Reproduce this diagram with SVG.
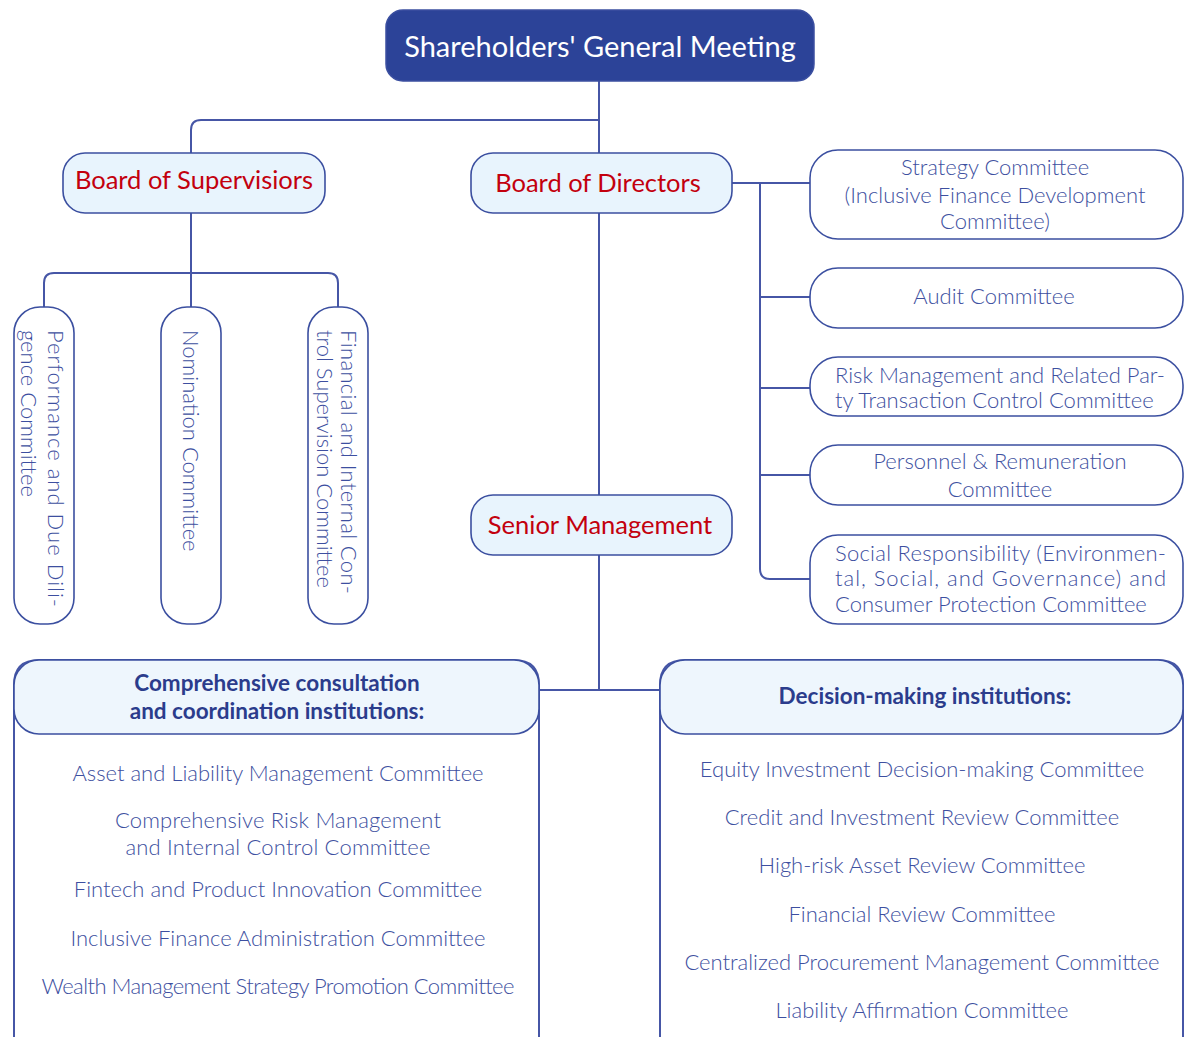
<svg xmlns="http://www.w3.org/2000/svg" width="1184" height="1037" viewBox="0 0 1184 1037">
<style>
.ln{fill:none;stroke:#4656a6;stroke-width:2}
.bx{fill:#e8f4fd;stroke:#3b4fa0;stroke-width:1.6}
.cb{fill:#ffffff;stroke:#3b4fa0;stroke-width:1.6}
.hd{fill:#eef6fd;stroke:#3b4fa0;stroke-width:1.6}
.red{font-family:"Lato","Noto Sans",sans-serif;font-size:25.5px;fill:#c3000e;text-anchor:middle}
.t{font-family:"Lato","Noto Sans",sans-serif;font-weight:300;font-size:22px;fill:#3d4fa0}
.tc{text-anchor:middle}
.hb{font-family:"Lato","Noto Sans",sans-serif;font-weight:700;font-size:22.5px;fill:#2b3c8c;text-anchor:middle}
</style>
<rect width="1184" height="1037" fill="#ffffff"/>
<g id="connectors">
<path class="ln" d="M599,81 V153"/>
<path class="ln" d="M599,120 H201 Q191,120 191,130 V153"/>
<path class="ln" d="M191,213 V307"/>
<path class="ln" d="M44,307 V283 Q44,273 54,273 H328 Q338,273 338,283 V307"/>
<path class="ln" d="M599,213 V495"/>
<path class="ln" d="M599,555 V690"/>
<path class="ln" d="M539,690 H660"/>
<path class="ln" d="M732,183 H810"/>
<path class="ln" d="M760,183 V569 Q760,579 770,579 H810"/>
<path class="ln" d="M760,297 H810 M760,388 H810 M760,475 H810"/>
</g>
<g id="shareholders">
<rect x="386" y="10" width="428" height="71" rx="17" fill="#2c4398" stroke="#3b4fa0" stroke-width="1.5"/>
<text x="600" y="57" font-family="Lato, 'Noto Sans', sans-serif" font-size="29" fill="#ffffff" text-anchor="middle">Shareholders' General Meeting</text>
</g>
<g id="supervisors">
<rect class="bx" x="63" y="153" width="262" height="60" rx="22"/>
<text class="red" x="194" y="189">Board of Supervisiors</text>
</g>
<g id="directors">
<rect class="bx" x="471" y="153" width="261" height="60" rx="22"/>
<text class="red" x="598" y="192">Board of Directors</text>
</g>
<g id="senior">
<rect class="bx" x="471" y="495" width="261" height="60" rx="22"/>
<text class="red" x="600" y="534">Senior Management</text>
</g>
<g id="performance">
<rect class="cb" x="14" y="307" width="60" height="317" rx="26"/>
<text class="t" transform="translate(48,330) rotate(90)" textLength="277">Performance and Due Dili-</text>
<text class="t" transform="translate(21,330) rotate(90)">gence Committee</text>
</g>
<g id="nomination">
<rect class="cb" x="161" y="307" width="60" height="317" rx="26"/>
<text class="t" transform="translate(183,330) rotate(90)">Nomination Committee</text>
</g>
<g id="financial">
<rect class="cb" x="308" y="307" width="60" height="317" rx="26"/>
<text class="t" transform="translate(341,330) rotate(90)" textLength="264">Financial and Internal Con-</text>
<text class="t" transform="translate(317,330) rotate(90)">trol Supervision Committee</text>
</g>
<g id="strategy">
<rect class="cb" x="810" y="150" width="373" height="89" rx="28"/>
<text class="t tc" x="995" y="175">Strategy Committee</text>
<text class="t tc" x="995" y="203">(Inclusive Finance Development</text>
<text class="t tc" x="995" y="229">Committee)</text>
</g>
<g id="audit">
<rect class="cb" x="810" y="268" width="373" height="60" rx="28"/>
<text class="t tc" x="994" y="304">Audit Committee</text>
</g>
<g id="risk">
<rect class="cb" x="810" y="357" width="373" height="59" rx="28"/>
<text class="t" x="835" y="383" textLength="330">Risk Management and Related Par-</text>
<text class="t" x="835" y="408">ty Transaction Control Committee</text>
</g>
<g id="personnel">
<rect class="cb" x="810" y="445" width="373" height="60" rx="28"/>
<text class="t tc" x="1000" y="469">Personnel &amp; Remuneration</text>
<text class="t tc" x="1000" y="497">Committee</text>
</g>
<g id="social">
<rect class="cb" x="810" y="535" width="373" height="89" rx="28"/>
<text class="t" x="835" y="561" textLength="331">Social Responsibility (Environmen-</text>
<text class="t" x="835" y="586" textLength="331">tal, Social, and Governance) and</text>
<text class="t" x="835" y="612">Consumer Protection Committee</text>
</g>
<g id="consultation">
<path class="ln" d="M14,1040 V685 Q14,660 39,660 H514 Q539,660 539,685 V1040"/>
<rect class="hd" x="14" y="660" width="525" height="74" rx="25"/>
<text class="hb" x="277" y="691">Comprehensive consultation</text>
<text class="hb" x="277" y="719">and coordination institutions:</text>
<text class="t tc" x="278" y="781">Asset and Liability Management Committee</text>
<text class="t tc" x="278" y="828" textLength="326">Comprehensive Risk Management</text>
<text class="t tc" x="278" y="855" textLength="305">and Internal Control Committee</text>
<text class="t tc" x="278" y="897">Fintech and Product Innovation Committee</text>
<text class="t tc" x="278" y="946">Inclusive Finance Administration Committee</text>
<text class="t tc" x="278" y="994" textLength="473">Wealth Management Strategy Promotion Committee</text>
</g>
<g id="decision">
<path class="ln" d="M660,1040 V685 Q660,660 685,660 H1158 Q1183,660 1183,685 V1040"/>
<rect class="hd" x="660" y="660" width="523" height="74" rx="25"/>
<text class="hb" x="925" y="704">Decision-making institutions:</text>
<text class="t tc" x="922" y="777">Equity Investment Decision-making Committee</text>
<text class="t tc" x="922" y="825">Credit and Investment Review Committee</text>
<text class="t tc" x="922" y="873">High-risk Asset Review Committee</text>
<text class="t tc" x="922" y="922">Financial Review Committee</text>
<text class="t tc" x="922" y="970">Centralized Procurement Management Committee</text>
<text class="t tc" x="922" y="1018">Liability Affirmation Committee</text>
</g>
</svg>
